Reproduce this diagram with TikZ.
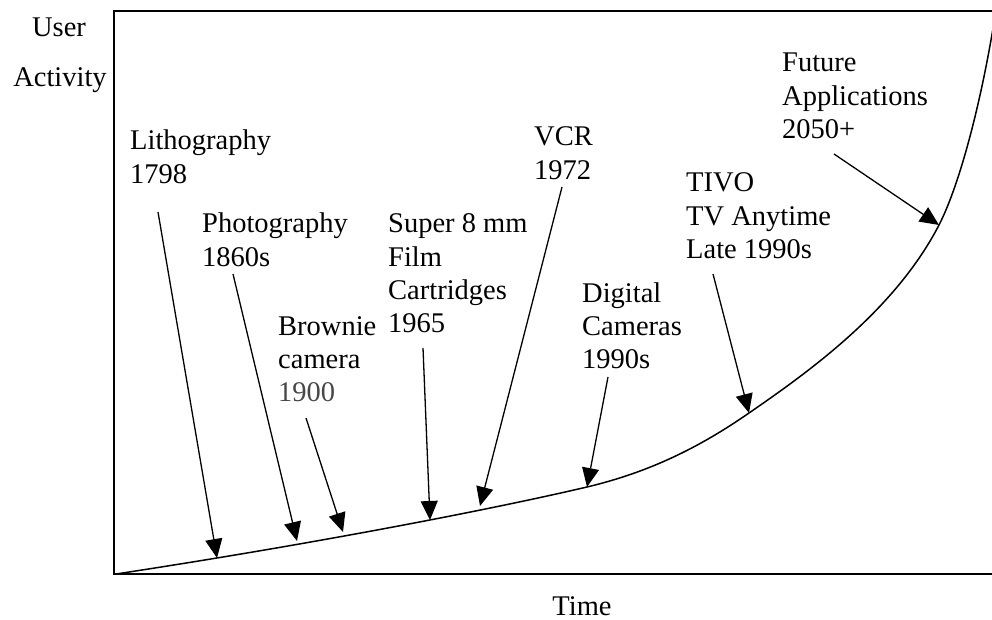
\documentclass[tikz,border=0pt]{standalone}
\usepackage{fontspec}
\setmainfont{Liberation Serif}
\usetikzlibrary{arrows.meta}
% left-aligned stack of lines whose baseline is that of the first line
\newcommand\labelstack[1]{\begin{tabular}[t]{@{}l@{}}#1\end{tabular}}
\tikzset{
  lbl/.style={anchor=base west, inner sep=0pt, font=\fontsize{28.5}{33.3}\selectfont},
  axislbl/.style={anchor=base, inner sep=0pt, font=\fontsize{28.5}{33.3}\selectfont},
  pointer/.style={line width=1.3pt, -{Triangle[length=19pt,width=17pt]}},
  frame/.style={line width=1.8pt},
  growth/.style={line width=1.5pt}
}
\begin{document}
\begin{tikzpicture}[x=1pt,y=-1pt]
\useasboundingbox (0,0) rectangle (992,620);

% frame: left, top and bottom edges
\draw[frame] (993,11) -- (114,11) -- (114,574) -- (993,574);

% growth curve
\draw[growth] (116,574)
  .. controls (300,546) and (480,512) .. (587,487)
  .. controls (650,472) and (700,447) .. (749,413)
  .. controls (810,371) and (895,310) .. (939,225)
  .. controls (960,184) and (982,100) .. (996,10);

% axis labels
\node[axislbl] (yl1) at (59,37) {User};
\node[axislbl] (yl2) at (60,87) {Activity};
\node[axislbl] (xl) at (582,615) {Time};

% milestone labels
\node[lbl] (litho) at (130,150) {\labelstack{Lithography\\1798}};
\node[lbl] (photo) at (202,233) {\labelstack{Photography\\1860s}};
\node[lbl] (brownie) at (278,335) {\labelstack{Brownie\\camera\\\textcolor{black!72}{1900}}};
\node[lbl] (super) at (388,233) {\labelstack{Super 8 mm\\Film\\Cartridges\\1965}};
\node[lbl] (vcr) at (534,146) {\labelstack{VCR\\1972}};
\node[lbl] (digital) at (582,302) {\labelstack{Digital\\Cameras\\1990s}};
\node[lbl] (tivo) at (686,192) {\labelstack{TIVO\\TV Anytime\\Late 1990s}};
\node[lbl] (future) at (782,72) {\labelstack{Future\\Applications\\2050+}};

% pointer tails (under each label) and heads (on the curve)
\coordinate (litho-s) at (158,212);   \coordinate (litho-e) at (217,558);
\coordinate (photo-s) at (233,274);   \coordinate (photo-e) at (297,541);
\coordinate (brownie-s) at (306,418); \coordinate (brownie-e) at (343,532);
\coordinate (super-s) at (423,348);   \coordinate (super-e) at (430,520);
\coordinate (vcr-s) at (562,187);     \coordinate (vcr-e) at (480,506);
\coordinate (digital-s) at (608,377); \coordinate (digital-e) at (587,487);
\coordinate (tivo-s) at (713,274);    \coordinate (tivo-e) at (749,413);
\coordinate (future-s) at (834,154);  \coordinate (future-e) at (939,225);

\foreach \p in {litho,photo,brownie,super,vcr,digital,tivo,future}
  \draw[pointer] (\p-s) -- (\p-e);
\end{tikzpicture}
\end{document}
